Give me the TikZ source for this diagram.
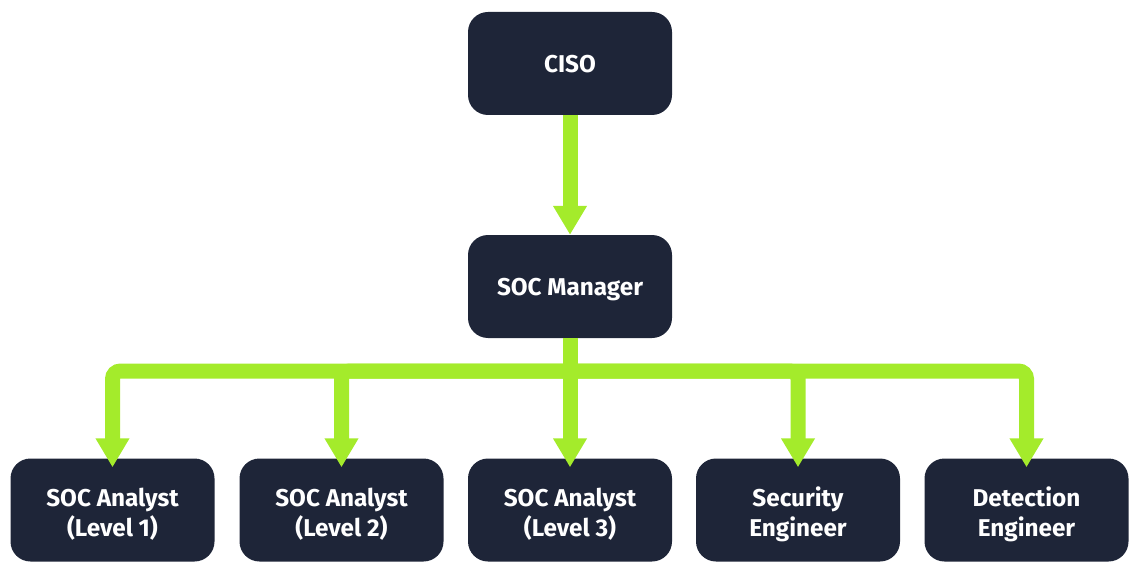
\documentclass[tikz,border=0pt]{standalone}
\usepackage{fontspec}
\setmainfont{Fira Sans}
\usetikzlibrary{arrows.meta}
\definecolor{navy}{HTML}{1E2538}
\definecolor{lime}{HTML}{A4EB2B}
\newcommand{\lowstrut}{\rule[-6pt]{0pt}{26pt}}
\newcommand{\highstrut}{\rule{0pt}{27.5pt}}
\newcommand{\boxfont}{\fontsize{24.3}{30}\selectfont\bfseries\lineskiplimit=-100pt\relax}
\begin{document}
\begin{tikzpicture}[x=1pt,y=-1pt,
  box/.style={fill=navy, rounded corners=20pt, minimum width=204pt, minimum height=103pt,
    text=white, font=\boxfont, align=center, inner sep=0pt,
    execute at begin node={\rule[-6pt]{0pt}{29.6pt}}, execute at end node={\lowstrut}},
  box2/.style={fill=navy, rounded corners=20pt, minimum width=204pt, minimum height=103pt,
    text=white, font=\boxfont, align=center, inner sep=0pt},
  wire/.style={draw=lime, line width=15pt},
  arr/.style={wire, -{Triangle[width=32pt,length=29pt]}, rounded corners=8pt}]
\useasboundingbox (0,0) rectangle (1140,572);
\node[box] (ciso) at (570,63.5) {CISO};
\node[box] (mgr) at (570,286.5) {SOC Manager};
\node[box2] (sa1) at (112.5,510) {\highstrut SOC Analyst\\(Level 1)};
\node[box2] (sa2) at (341.5,510) {\highstrut SOC Analyst\\(Level 2)};
\node[box2] (sa3) at (570,510) {\highstrut SOC Analyst\\(Level 3)};
\node[box2] (se)  at (798,510) {\highstrut Security\\Engineer};
\node[box2] (de)  at (1026.5,510) {\highstrut Detection\\Engineer};
\coordinate (bus) at (570,371);
\draw[wire, -{Triangle[width=32pt,length=29pt]}] (ciso.south) -- (mgr.north);
\draw[wire] (mgr.south) -- (bus);
\foreach \n in {sa1,sa2,sa3,se,de}
  \draw[arr] (bus) -| ([yshift=-9pt]\n.north);
\end{tikzpicture}
\end{document}
